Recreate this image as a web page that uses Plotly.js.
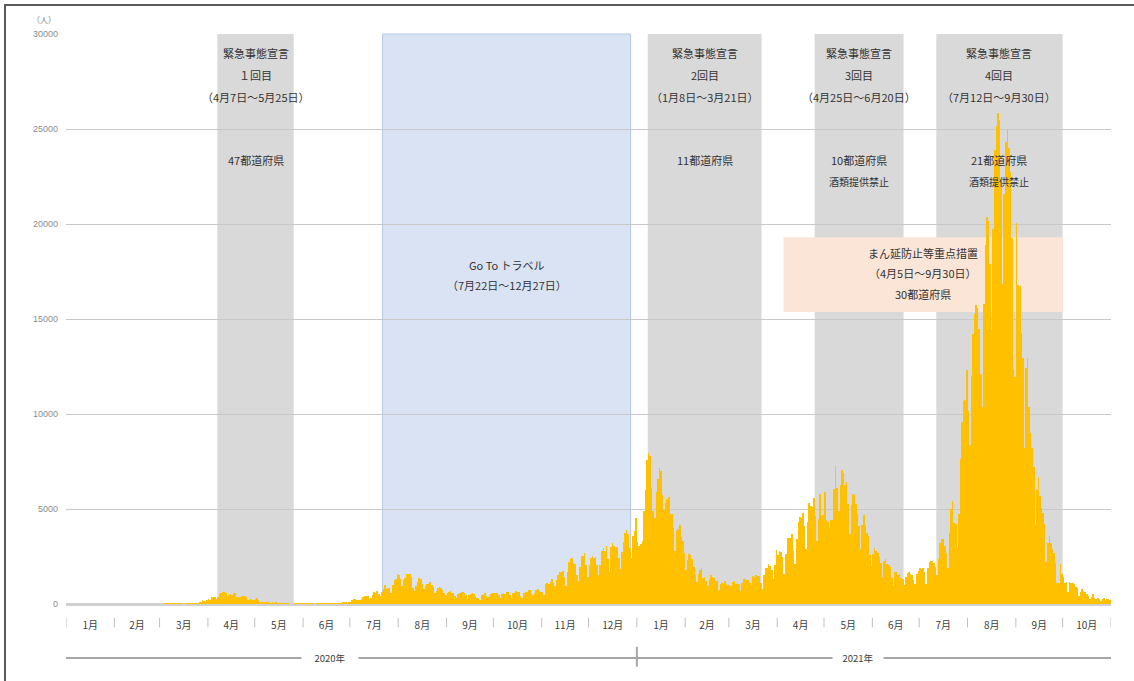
<!DOCTYPE html>
<html>
<head>
<meta charset="utf-8">
<script src="https://cdn.plot.ly/plotly-3.0.1.min.js"></script>
<style>
html,body{margin:0;padding:0;background:#fff;overflow:hidden;}
#chart{width:1134px;height:681px;position:absolute;left:0;top:0;}
#frame{position:absolute;left:4px;top:4px;width:1140px;height:690px;border:2px solid #5a5a5a;pointer-events:none;}
</style>
</head>
<body>
<div id="chart"></div>
<div id="frame"></div>
<script>
// Daily new cases (人), one array per month
const m2020_01 = [0,0,0,0,0,0,0,0,0,0,0,0,0,0,1,0,0,0,0,0,0,0,0,1,1,1,0,0,3,3,3];
const m2020_02 = [2,0,0,1,0,0,0,0,0,0,0,1,4,8,9,5,7,7,9,12,10,16,14,9,12,15,21,18,11];
const m2020_03 = [13,12,24,34,36,32,32,34,27,59,52,56,62,41,33,15,44,44,37,41,54,43,38,65,71,96,112,200,173,87,220];
const m2020_04 = [266,235,351,367,383,252,351,511,576,644,620,568,386,457,549,482,585,568,389,367,374,434,440,436,353,196,187,276,233,202];
const m2020_05 = [263,294,218,87,123,104,97,126,111,75,52,84,55,94,67,57,28,31,41,36,40,31,21,14,21,35,38,56,49,54,41];
const m2020_06 = [36,51,37,48,40,38,38,14,40,34,43,41,52,47,40,44,41,61,57,60,48,34,62,65,48,105,92,113,59,130];
const m2020_07 = [123,196,248,271,204,220,220,286,355,427,399,406,257,333,450,624,589,659,508,413,634,797,977,779,834,858,598,986,1264,1305,1580];
const m2020_08 = [1534,1329,956,1243,1356,1594,1605,1565,1446,819,700,969,1176,1355,1301,1030,806,938,1064,1071,1151,1013,883,572,694,848,909,851,760,560,469];
const m2020_09 = [597,640,659,568,575,428,292,510,598,629,640,587,454,275,489,544,579,549,425,316,307,225,463,480,561,444,357,399,519,567];
const m2020_10 = [572,573,561,464,335,518,603,529,618,658,472,303,590,557,691,637,632,434,312,569,628,630,734,750,598,449,600,759,795,709,633];
const m2020_11 = [613,498,1069,1107,1050,1140,1320,1107,954,1278,1543,1662,1706,1736,1434,947,1700,2201,2388,2425,2172,2118,1518,1228,1943,2504,2527,2684,2065,1429];
const m2020_12 = [2029,2434,2510,2437,2469,2033,1514,2055,2810,2973,2774,3036,2380,1674,2998,3207,3044,2987,2997,2436,1832,2757,3270,3741,3876,3710,2947,2396,3603,3852,4520];
const m2021_01 = [3241,3058,3134,3321,4915,6004,7570,7949,7790,6094,4876,4537,5874,6605,7133,7014,5759,4925,5320,5542,5650,4717,4752,3990,2764,3852,3963,4133,3534,3342,2673];
const m2021_02 = [1790,2327,2630,2583,2366,1952,1544,1149,1569,1785,1883,1357,1402,1236,949,1308,1542,1403,1351,1204,1200,740,1067,1089,1055,1219,1044,996];
const m2021_03 = [1020,961,1158,1215,1050,1066,1062,705,1128,1304,1318,1286,1287,1088,990,1498,1414,1513,1471,1466,1116,815,1522,1916,1910,2084,2004,1785,1300,2065,2838];
const m2021_04 = [2599,2766,2758,2473,1572,2658,3452,3454,3461,3687,2772,2092,3441,4306,4570,4533,4800,4093,2898,4339,5290,5181,5119,5604,4606,3314,4496,5792,4654,4670];
const m2021_05 = [5886,4397,4307,4001,4410,4430,6054,7241,6119,4906,6238,7058,6874,6273,6419,5238,3678,5225,5816,5720,5241,4713,4087,2910,4148,4702,4142,3714,3587,2579,1985];
const m2021_06 = [2653,2946,2772,2679,2455,2181,1432,2240,2359,2109,2047,1937,1390,939,1667,1700,1551,1576,1377,1305,1020,1431,1612,1679,1566,1511,1247,1066,1598,1753];
const m2021_07 = [1884,1844,1894,1675,1037,1904,2207,2243,2279,2178,1924,1520,2380,3193,3416,3434,3072,2668,1888,3759,5021,5429,4251,4197,2955,4740,7627,9576,10699,10743,12340];
const m2021_08 = [10178,8388,12017,14207,15263,15753,15567,14472,12096,10347,15812,18889,20366,20141,17875,14437,19724,23911,25145,25868,25492,22260,16837,21570,24324,24956,24005,22745,19285,12350,11952];
const m2021_09 = [20042,16800,16752,14245,12940,8212,12427,12932,10389,9010,8228,7230,4167,6020,6700,5710,5062,4798,4232,2220,3203,3572,3230,2904,2661,2132,1122,1130,2110,1583];
const m2021_10 = [1442,1089,1146,617,1182,1126,1128,1061,906,819,404,618,798,699,608,506,429,253,388,548,339,288,306,240,155,267,305,226,286,262,229];

const months = [
  ['2020-01', m2020_01], ['2020-02', m2020_02], ['2020-03', m2020_03], ['2020-04', m2020_04],
  ['2020-05', m2020_05], ['2020-06', m2020_06], ['2020-07', m2020_07], ['2020-08', m2020_08],
  ['2020-09', m2020_09], ['2020-10', m2020_10], ['2020-11', m2020_11], ['2020-12', m2020_12],
  ['2021-01', m2021_01], ['2021-02', m2021_02], ['2021-03', m2021_03], ['2021-04', m2021_04],
  ['2021-05', m2021_05], ['2021-06', m2021_06], ['2021-07', m2021_07], ['2021-08', m2021_08],
  ['2021-09', m2021_09], ['2021-10', m2021_10]
];

// Emergency declarations (緊急事態宣言)
const emergencyStart = ['2020-04-07', '2021-01-08', '2021-04-25', '2021-07-12'];
const emergencyEnd   = ['2020-05-25', '2021-03-21', '2021-06-20', '2021-09-30'];
const emergencyTitle = ['緊急事態宣言', '緊急事態宣言', '緊急事態宣言', '緊急事態宣言'];
const emergencyRound = ['１回目', '2回目', '3回目', '4回目'];
const emergencyPeriod = ['（4月7日～5月25日）', '（1月8日～3月21日）', '（4月25日～6月20日）', '（7月12日～9月30日）'];
const emergencyArea = ['47都道府県', '11都道府県', '10都道府県', '21都道府県'];
const emergencyNote = ['', '', '酒類提供禁止', '酒類提供禁止'];

// Go To トラベル
const gotoStart = '2020-07-22', gotoEnd = '2020-12-27';
const gotoLines = ['Go To トラベル', '（7月22日～12月27日）'];

// まん延防止等重点措置
const manboStart = '2021-04-05', manboEnd = '2021-09-30';
const manboLines = ['まん延防止等重点措置', '（4月5日～9月30日）', '30都道府県'];
const manboLow = 15370, manboHigh = 19300;

const yearLabels = ['2020年', '2021年'];
const yearStarts = ['2020-01-01', '2021-01-01'];
const axisStart = '2020-01-01', axisEnd = '2021-11-01';
const monthBoundaries = [];

// ---- build traces ----
const xs = [], ys = [];
months.forEach(([ym, vals]) => {
  monthBoundaries.push(ym + '-01');
  vals.forEach((v, i) => {
    const d = String(i + 1).padStart(2, '0');
    xs.push(ym + '-' + d + ' 12:00');
    ys.push(v);
  });
});
monthBoundaries.push(axisEnd);

function addDay(s) {
  const t = new Date(s + 'T00:00:00Z'); t.setUTCDate(t.getUTCDate() + 1);
  return t.toISOString().slice(0, 10);
}
function mid(a, b) {
  const ta = Date.parse(a + 'T00:00:00Z'), tb = Date.parse(addDay(b) + 'T00:00:00Z');
  return new Date((ta + tb) / 2).toISOString().slice(0, 19).replace('T', ' ');
}

const trace = {
  type: 'bar', x: xs, y: ys,
  marker: {color: '#ffc000', line: {width: 0}},
  hoverinfo: 'x+y'
};

const shapes = [];
const annotations = [];
const txtFont = {family: 'Noto Sans CJK JP, sans-serif', size: 11, color: '#333333'};
const smallFont = {family: 'Noto Sans CJK JP, sans-serif', size: 10, color: '#333333'};

emergencyStart.forEach((s, i) => {
  shapes.push({type: 'rect', layer: 'below', xref: 'x', yref: 'paper', x0: s, x1: addDay(emergencyEnd[i]),
    y0: 0, y1: 1, fillcolor: '#d9d9d9', line: {width: 0}});
  const cx = mid(s, emergencyEnd[i]);
  const lines = [[emergencyTitle[i], 29000, txtFont], [emergencyRound[i], 27840, txtFont],
                 [emergencyPeriod[i], 26680, txtFont], [emergencyArea[i], 23370, txtFont],
                 [emergencyNote[i], 22260, smallFont]];
  lines.forEach(([t, yy, f]) => {
    if (t) annotations.push({x: cx, y: yy, xref: 'x', yref: 'y', xanchor: 'center', text: t, showarrow: false, font: f});
  });
});

shapes.push({type: 'rect', layer: 'below', xref: 'x', yref: 'paper', x0: gotoStart, x1: addDay(gotoEnd),
  y0: 0, y1: 1, fillcolor: '#dae3f3', line: {width: 1, color: '#b4c7e7'}});
const gx = mid(gotoStart, gotoEnd);
[17840, 16790].forEach((yy, i) => annotations.push({x: gx, y: yy, xref: 'x', yref: 'y', xanchor: 'center', text: gotoLines[i], showarrow: false, font: txtFont}));

shapes.push({type: 'rect', layer: 'below', xref: 'x', yref: 'y', x0: manboStart, x1: addDay(manboEnd),
  y0: manboLow, y1: manboHigh, fillcolor: '#fbe5d6', line: {width: 0}});
const mx = mid(manboStart, manboEnd);
[18470, 17420, 16320].forEach((yy, i) => annotations.push({x: mx, y: yy, xref: 'x', yref: 'y', xanchor: 'center', text: manboLines[i], showarrow: false, font: txtFont}));

// month separators below the axis
monthBoundaries.forEach(b => {
  shapes.push({type: 'line', xref: 'x', yref: 'paper', x0: b, x1: b, y0: -0.0245, y1: -0.041,
    line: {color: '#bfbfbf', width: 1}});
});
// year line
shapes.push({type: 'line', xref: 'x', yref: 'paper', x0: axisStart, x1: axisEnd, y0: -0.0947, y1: -0.0947,
  line: {color: '#a6a6a6', width: 2}});
shapes.push({type: 'line', xref: 'x', yref: 'paper', x0: yearStarts[1], x1: yearStarts[1], y0: -0.075, y1: -0.11,
  line: {color: '#a6a6a6', width: 2}});
annotations.push({xref: 'paper', yref: 'paper', x: 0.2526, y: -0.0947, xanchor: 'center', yanchor: 'middle',
  text: yearLabels[0], showarrow: false,
  bgcolor: '#ffffff', borderpad: 0, font: {family: 'Noto Sans CJK JP, sans-serif', size: 9.5, color: '#404040'},
  width: 56, height: 14});
annotations.push({xref: 'paper', yref: 'paper', x: 0.758, y: -0.0947, xanchor: 'center', yanchor: 'middle',
  text: yearLabels[1], showarrow: false,
  bgcolor: '#ffffff', borderpad: 0, font: {family: 'Noto Sans CJK JP, sans-serif', size: 9.5, color: '#404040'},
  width: 50, height: 14});
// unit label
annotations.push({xref: 'paper', yref: 'paper', x: -0.008, y: 1.0, yshift: 15, xanchor: 'right', yanchor: 'middle',
  text: '（人）', showarrow: false,
  font: {family: 'Noto Sans CJK JP, sans-serif', size: 8, color: '#7f7f7f'}});

const layout = {
  width: 1134, height: 681,
  margin: {l: 66, r: 23, t: 34, b: 77},
  paper_bgcolor: '#ffffff', plot_bgcolor: '#ffffff',
  showlegend: false, bargap: 0,
  xaxis: {
    type: 'date', range: [axisStart, axisEnd],
    dtick: 'M1', tick0: axisStart, tickformat: '%-m月', ticklabelmode: 'period',
    ticks: '', showgrid: false, showline: false, zeroline: false,
    ticklabelstandoff: 14,
    tickfont: {family: 'Noto Sans CJK JP, sans-serif', size: 10, color: '#404040'}
  },
  yaxis: {
    range: [0, 30000], dtick: 5000, tick0: 0, tickformat: 'd',
    showgrid: true, gridcolor: '#c8c8c8', gridwidth: 1,
    zeroline: true, zerolinecolor: '#d0d0d0', zerolinewidth: 3,
    showline: false, ticks: '', ticklabelstandoff: 7,
    tickfont: {family: 'Liberation Sans, Arial, sans-serif', size: 9, color: '#8c8c8c'}
  },
  shapes: shapes, annotations: annotations
};

Plotly.newPlot('chart', [trace], layout, {displayModeBar: false, staticPlot: true});
</script>
</body>
</html>
